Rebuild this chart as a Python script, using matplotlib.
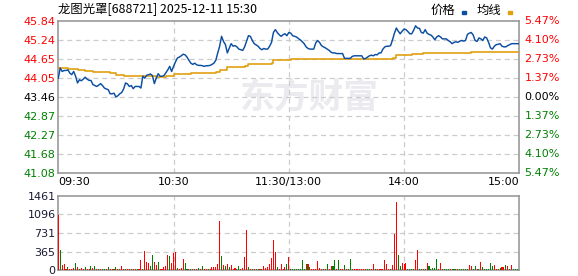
import numpy as np
import matplotlib
matplotlib.use('Agg')
import matplotlib.pyplot as plt
from matplotlib.patches import Rectangle

# ---------------- data ----------------
title = "龙图光罩[688721] 2025-12-11 15:30"
legend_labels = ["价格", "均线"]
watermark = "东方财富"
prev_close = 43.46
price_ticks = ['45.84', '45.24', '44.65', '44.05', '43.46', '42.87', '42.27', '41.68', '41.08']
pct_ticks = ['5.47%', '4.10%', '2.73%', '1.37%', '0.00%', '1.37%', '2.73%', '4.10%', '5.47%']
time_labels = ['09:30', '10:30', '11:30/13:00', '14:00', '15:00']
time_pos = [0, 60, 120, 180, 240]
vol_ticks = ['0', '365', '731', '1096', '1461']

price = [
    44.05, 44.37, 44.26, 44.29, 44.29, 44.31, 44.21, 44.16, 44.26, 44.11,
    43.90, 44.00, 43.97, 44.02, 44.08, 44.02, 43.98, 43.98, 43.85, 43.82,
    43.79, 43.83, 43.88, 43.82, 43.74, 43.71, 43.69, 43.56, 43.56, 43.58,
    43.46, 43.50, 43.56, 43.60, 43.71, 43.90, 43.87, 43.79, 43.82, 43.72,
    43.79, 43.79, 43.79, 43.74, 44.11, 44.05, 44.14, 44.16, 44.18, 44.13,
    43.88, 44.05, 44.19, 44.11, 44.11, 44.13, 44.22, 44.31, 44.42, 44.26,
    44.42, 44.56, 44.68, 44.71, 44.75, 44.80, 44.78, 44.71, 44.61, 44.52,
    44.48, 44.52, 44.47, 44.45, 44.45, 44.44, 44.42, 44.44, 44.44, 44.45,
    44.48, 44.52, 44.61, 44.84, 45.05, 45.36, 45.20, 45.10, 44.84, 44.99,
    45.13, 45.05, 45.07, 45.03, 44.96, 44.94, 44.92, 45.03, 45.20, 45.38,
    45.36, 45.23, 45.13, 45.09, 45.05, 44.98, 44.94, 44.98, 44.96, 44.96,
    45.05, 45.17, 45.48, 45.57, 45.48, 45.41, 45.36, 45.41, 45.44, 45.38,
    45.48,
    45.46, 45.38, 45.36, 45.34, 45.29, 45.25, 45.19, 45.13, 45.03, 44.98,
    44.96, 44.96, 44.96, 45.15, 45.23, 45.17, 45.07, 45.03, 45.00, 44.96,
    44.92, 44.86, 44.84, 44.84, 44.82, 44.82, 44.82, 44.82, 44.67, 44.67,
    44.67, 44.67, 44.73, 44.75, 44.75, 44.75, 44.75, 44.75, 44.65, 44.67,
    44.71, 44.75, 44.77, 44.75, 44.79, 44.78, 44.84, 44.84, 44.96, 45.03,
    45.05, 45.05, 45.07, 45.25, 45.46, 45.62, 45.52, 45.44, 45.52, 45.59,
    45.57, 45.51, 45.44, 45.44, 45.55, 45.69, 45.62, 45.61, 45.48, 45.46,
    45.57, 45.46, 45.42, 45.40, 45.34, 45.25, 45.34, 45.38, 45.34, 45.28,
    45.28, 45.28, 45.23, 45.19, 45.13, 45.17, 45.19, 45.17, 45.21, 45.23,
    45.21, 45.23, 45.42, 45.46, 45.48, 45.40, 45.23, 45.20, 45.31, 45.28,
    45.23, 45.34, 45.31, 45.17, 45.00, 44.96, 45.05, 45.10, 45.11, 45.13,
    45.05, 45.03, 45.03, 45.07, 45.10, 45.13, 45.13, 45.13, 45.13, 45.13,
]

avg_minutes = [0, 5, 10, 14, 18, 22, 27, 30, 34, 44, 51, 56, 60, 69, 82, 84, 88,
               97, 99, 111, 112, 121, 138, 174, 176, 184, 190, 215, 240]
avg_price = [44.37, 44.34, 44.31, 44.28, 44.25, 44.23, 44.20, 44.16, 44.13, 44.11,
             44.08, 44.11, 44.17, 44.22, 44.24, 44.31, 44.39, 44.42, 44.49, 44.52,
             44.61, 44.64, 44.66, 44.68, 44.78, 44.81, 44.84, 44.87, 44.87]

volume = [
    1090, 390, 105, 125, 25, 50, 20, 20, 30, 144,
    65, 20, 30, 25, 50, 20, 25, 85, 30, 80,
    25, 20, 25, 20, 20, 25, 60, 20, 25, 20,
    55, 20, 20, 80, 20, 20, 20, 15, 15, 15,
    15, 20, 20, 200, 20, 370, 160, 140, 80, 290,
    160, 95, 150, 20, 25, 60, 80, 290, 270, 140,
    330, 360, 30, 25, 30, 220, 130, 25, 20, 20,
    20, 20, 25, 40, 20, 70, 20, 20, 20, 20,
    65, 65, 60, 120, 960, 280, 100, 80, 120, 60,
    100, 20, 30, 20, 70, 20, 30, 250, 780, 60,
    20, 20, 25, 20, 25, 20, 20, 80, 40, 60,
    120, 230, 590, 350, 50, 20, 110, 20, 50, 110,
    250,
    20, 20, 20, 20, 20, 20, 203, 20, 110, 110,
    50, 20, 20, 20, 170, 40, 20, 20, 20, 110,
    20, 70, 80, 190, 20, 190, 20, 20, 100, 20,
    20, 210, 20, 20, 20, 20, 20, 20, 20, 20,
    20, 20, 20, 110, 20, 20, 20, 20, 20, 190,
    110, 20, 20, 100, 720, 1340, 300, 80, 140, 120,
    140, 20, 20, 20, 20, 190, 390, 20, 20, 20,
    20, 140, 80, 20, 30, 30, 210, 20, 140, 20,
    20, 20, 20, 20, 20, 20, 20, 20, 20, 20,
    20, 20, 20, 100, 80, 20, 80, 20, 20, 150,
    60, 20, 20, 20, 140, 80, 100, 20, 20, 40,
    60, 60, 100, 70, 20, 90, 20, 20, 20, 180,
]

vol_dir = ("rgrrrgrrrg" "rgrrgrrgrg" "rgrggrgrgr" "grgrrgrrgr"
           "rgrrgrrrgg" "rrgrrrrrgr" "rrgrrrggrg" "rgrgrgrrgr"
           "rrrrrgrgrg" "rrrggrrrrg" "rgrgrgrrrr" "rrrrgrrrrg"
           "r"
           "gggggggggr" "grrrrrrgrg" "rrggrgrrgr" "ggrrrrrrrr"
           "ggrrgrrrrr" "rrgrrrggrr" "rggggrrggr" "grgggggrrg"
           "gggrgggrgg" "gggrrggrgr" "ggggggrrgg" "rrgrgrgggr")

# ---------------- styling ----------------
W, H = 578, 276
C_UP = '#FF0000'
C_DN = '#008000'
C_PRICE = '#0B4EA2'
C_AVG = '#E0A010'
C_GRID = '#CCCCCC'
C_SPINE = '#999999'
NUM_FONT = ['DejaVu Sans']
CJK_FONT = ['Noto Sans CJK SC', 'DejaVu Sans']

plt.rcParams['font.family'] = NUM_FONT

fig = plt.figure(figsize=(W / 100, H / 100), dpi=100)
fig.patch.set_facecolor('white')


def fx(px):
    return px / W


def fy(py):
    return 1 - py / H


L, R = 58.3, 519.3
ax = fig.add_axes([fx(L), fy(173), fx(R) - fx(L), fy(21) - fy(173)])
axv = fig.add_axes([fx(L), fy(270), fx(R) - fx(L), fy(196) - fy(270)])

minutes = np.arange(len(price))

# ---- main price panel ----
levels = [float(t) for t in price_ticks]
ax.set_xlim(0, 240)
ax.set_ylim(min(levels), max(levels))
for lv in levels[1:-1]:
    ax.axhline(lv, color=C_GRID, lw=0.9, ls=(0, (4, 3)), zorder=1)
for t in time_pos[1:-1]:
    ax.axvline(t, color=C_GRID, lw=0.9, ls=(0, (4, 3)), zorder=1)

ax.text(0.545, 0.5, watermark, transform=ax.transAxes, ha='center', va='center',
        fontsize=25, fontweight='bold', color='#EBEBEF', family=CJK_FONT,
        style='italic', zorder=0)

ax.plot(avg_minutes, avg_price, color=C_AVG, lw=1.2, drawstyle='steps-post', zorder=3)
ax.plot(minutes, price, color=C_PRICE, lw=1.05, zorder=4)

ax.set_yticks(levels)
ax.set_yticklabels(price_ticks)
ax.tick_params(axis='y', length=0, pad=2, labelsize=8)
for lab, lv in zip(ax.get_yticklabels(), levels):
    lab.set_color(C_UP if lv > prev_close + 1e-6 else (C_DN if lv < prev_close - 1e-6 else '#000000'))

ytr = ax.get_yaxis_transform()
for lab, lv in zip(pct_ticks, levels):
    col = C_UP if lv > prev_close + 1e-6 else (C_DN if lv < prev_close - 1e-6 else '#000000')
    ax.text(1.011, lv, lab, transform=ytr, ha='left', va='center', fontsize=8,
            color=col, clip_on=False)

ax.set_xticks(time_pos)
ax.set_xticklabels(time_labels)
ax.tick_params(axis='x', length=0, pad=3, labelsize=8, colors='#000000')
xl = ax.get_xticklabels()
xl[0].set_ha('left')
xl[-1].set_ha('right')

for s in ax.spines.values():
    s.set_color(C_SPINE)
    s.set_linewidth(1.2)

# ---- volume panel ----
vmax = float(vol_ticks[-1])
axv.set_xlim(0, 240)
axv.set_ylim(0, vmax)
vlev = [float(t) for t in vol_ticks]
for lv in vlev[1:-1]:
    axv.axhline(lv, color=C_GRID, lw=0.9, ls=(0, (4, 3)), zorder=1)
for t in time_pos[1:-1]:
    axv.axvline(t, color=C_GRID, lw=0.9, ls=(0, (4, 3)), zorder=1)
cols = [C_UP if c == 'r' else C_DN for c in vol_dir]
axv.bar(minutes, volume, width=0.55, color=cols, linewidth=0, zorder=3)
axv.set_yticks(vlev)
axv.set_yticklabels(vol_ticks)
axv.tick_params(axis='y', length=0, pad=2, labelsize=8, colors='#1A1A33')
axv.set_xticks([])
for s in axv.spines.values():
    s.set_color(C_SPINE)
    s.set_linewidth(1.2)

# ---- title and legend ----
fig.text(fx(58), fy(10), title, ha='left', va='center', fontsize=8.9,
         family=CJK_FONT, color='#000000')
fig.text(fx(431), fy(10), legend_labels[0], ha='left', va='center', fontsize=8.9,
         family=CJK_FONT, color='#000000')
fig.patches.append(Rectangle((fx(462), fy(14)), fx(4), fy(11) - fy(14),
                             transform=fig.transFigure, color=C_PRICE, figure=fig))
fig.text(fx(477), fy(10), legend_labels[1], ha='left', va='center', fontsize=8.9,
         family=CJK_FONT, color='#000000')
fig.patches.append(Rectangle((fx(508), fy(14)), fx(4), fy(11) - fy(14),
                             transform=fig.transFigure, color=C_AVG, figure=fig))

fig.savefig('out.png', dpi=100)
